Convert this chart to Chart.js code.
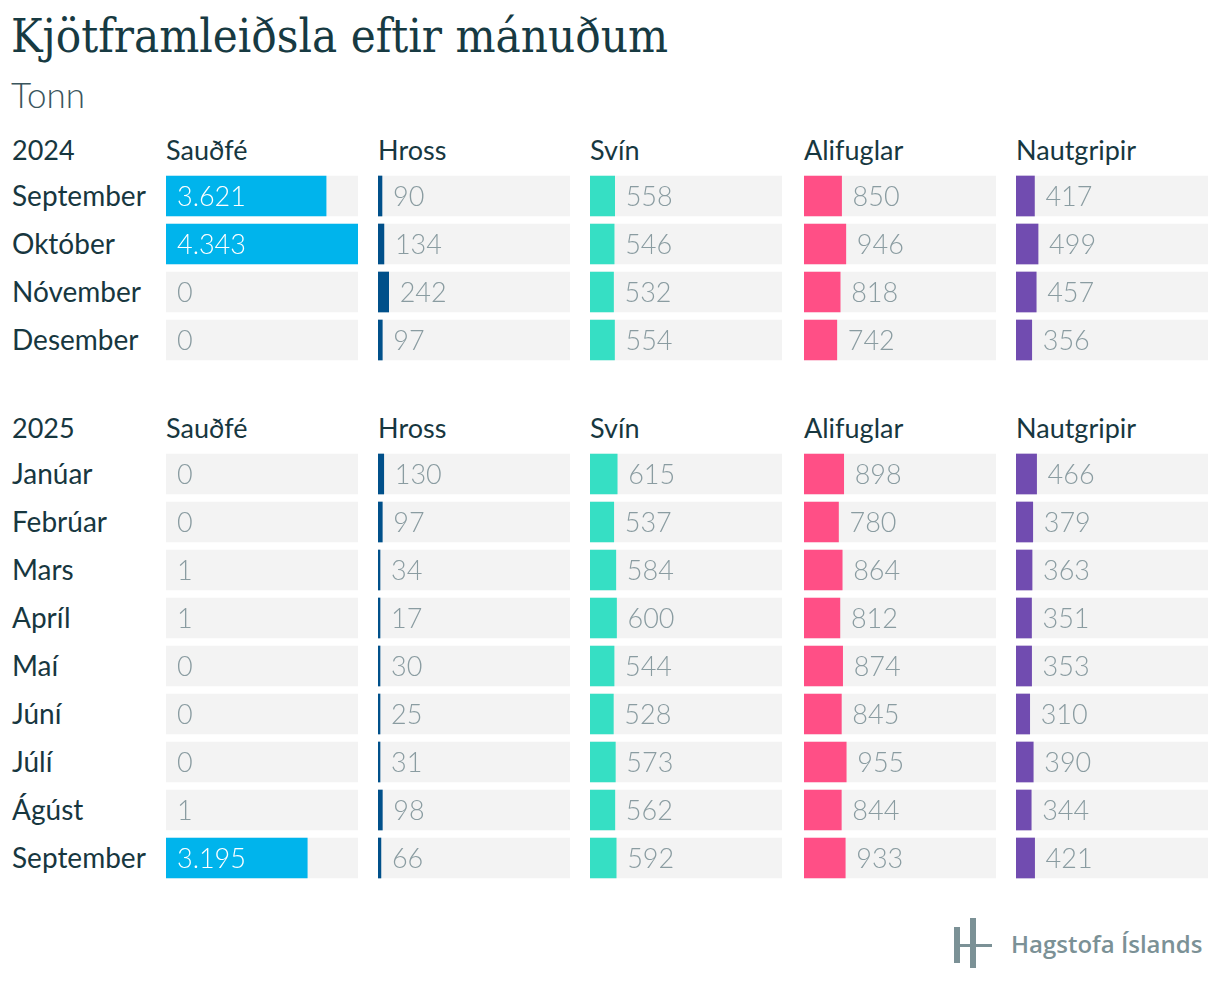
<!DOCTYPE html>
<html lang="is">
<head>
<meta charset="utf-8">
<title>Kjötframleiðsla eftir mánuðum</title>
<script src="https://cdn.jsdelivr.net/npm/chart.js@4.4.1/dist/chart.umd.min.js"></script>
<style>
  body { margin: 0; background: #fff; width: 1220px; height: 994px; position: relative; overflow: hidden;
         font-family: Lato, "Noto Sans", sans-serif; color: #17373f; }
  .abs { position: absolute; white-space: nowrap; }
  #title { left: 11px; top: 8px; font-family: "DejaVu Serif Condensed", "DejaVu Serif", serif; font-size: 47px; color: #173a42; }
  #sub { left: 11px; top: 73px; font-size: 35px; font-weight: 300; color: #3a555d; }
  .hd { font-size: 27px; line-height: 30px; }
  .mo { font-size: 28px; line-height: 30px; left: 12px; }
  canvas { position: absolute; }
  #logo-text { left: 1011px; top: 927px; font-family: "Open Sans", sans-serif; font-weight: 600; font-size: 24px; color: #7b9196; }
  .lg { position: absolute; background: #7b9196; }
</style>
</head>
<body>
<div id="title" class="abs">Kjötframleiðsla eftir mánuðum</div>
<div id="sub" class="abs">Tonn</div>

<div class="lg" style="left:954px;top:927px;width:6px;height:36px"></div>
<div class="lg" style="left:970px;top:918px;width:6px;height:50px"></div>
<div class="lg" style="left:954px;top:944px;width:38px;height:3px"></div>
<div id="logo-text" class="abs">Hagstofa Íslands</div>

<script>
// flokkar (kjöttegundir) og litir
const kinds = ["Sauðfé", "Hross", "Svín", "Alifuglar", "Nautgripir"];
const kindColors = ["#00b4ec", "#00508a", "#36dfc4", "#ff4f86", "#714cb0"];

// 2024
const months2024 = ["September", "Október", "Nóvember", "Desember"];
const saudfe2024 = [3621, 4343, 0, 0];
const hross2024 = [90, 134, 242, 97];
const svin2024 = [558, 546, 532, 554];
const alifuglar2024 = [850, 946, 818, 742];
const nautgripir2024 = [417, 499, 457, 356];

// 2025
const months2025 = ["Janúar", "Febrúar", "Mars", "Apríl", "Maí", "Júní", "Júlí", "Ágúst", "September"];
const saudfe2025 = [0, 0, 1, 1, 0, 0, 0, 1, 3195];
const hross2025 = [130, 97, 34, 17, 30, 25, 31, 98, 66];
const svin2025 = [615, 537, 584, 600, 544, 528, 573, 562, 592];
const alifuglar2025 = [898, 780, 864, 812, 874, 845, 955, 844, 933];
const nautgripir2025 = [466, 379, 363, 351, 353, 310, 390, 344, 421];

const blocks = [
  { year: "2024", months: months2024, series: [saudfe2024, hross2024, svin2024, alifuglar2024, nautgripir2024], headY: 135, top: 172 },
  { year: "2025", months: months2025, series: [saudfe2025, hross2025, svin2025, alifuglar2025, nautgripir2025], headY: 413, top: 450 }
];

const colX = [166, 378, 590, 804, 1016];
const colW = 192;
const rowH = 48;
const barH = 40;

// sami kvarði í öllum dálkum
const maxVal = Math.max(...blocks.flatMap(b => b.series.flat()));

function fmt(v) {
  return v.toLocaleString("de-DE");
}

// gildin skrifuð við endann á súlunni (eða inni í henni ef hún er breið)
const valueLabels = {
  id: "valueLabels",
  afterDatasetsDraw(chart) {
    const ctx = chart.ctx;
    const meta = chart.getDatasetMeta(1);
    const data = chart.data.datasets[1].data;
    ctx.save();
    ctx.font = "300 27px Lato";
    ctx.textBaseline = "middle";
    meta.data.forEach((bar, i) => {
      const w = bar.x - bar.base;
      let x, color;
      if (w > 100) {
        x = bar.base + 11;
        color = "#ffffff";
      } else {
        x = bar.x + 11;
        color = "#8a9ca1";
      }
      ctx.fillStyle = color;
      ctx.fillText(fmt(data[i]), x, bar.y + 1);
    });
    ctx.restore();
  }
};

function addText(cls, text, left, top) {
  const d = document.createElement("div");
  d.className = "abs " + cls;
  d.textContent = text;
  d.style.left = left + "px";
  d.style.top = top + "px";
  document.body.appendChild(d);
}

blocks.forEach(block => {
  addText("hd", block.year, 12, block.headY);
  block.months.forEach((m, i) => {
    addText("mo", m, 12, block.top + i * rowH + rowH / 2 - 16);
  });

  kinds.forEach((kind, k) => {
    addText("hd", kind, colX[k], block.headY);

    const canvas = document.createElement("canvas");
    const h = block.months.length * rowH;
    canvas.style.left = colX[k] + "px";
    canvas.style.top = block.top + "px";
    canvas.style.width = colW + "px";
    canvas.style.height = h + "px";
    document.body.appendChild(canvas);

    new Chart(canvas, {
      type: "bar",
      data: {
        labels: block.months,
        datasets: [
          {
            data: block.months.map(() => maxVal),
            backgroundColor: "#f3f3f3",
            barThickness: barH,
            grouped: false,
            order: 2
          },
          {
            data: block.series[k],
            // súlur sem eru minni en pixill sjást ekki
            backgroundColor: c => (c.raw / maxVal * colW < 0.5 ? "rgba(0,0,0,0)" : kindColors[k]),
            barThickness: barH,
            grouped: false,
            minBarLength: k === 1 ? 2 : 0,
            order: 1
          }
        ]
      },
      options: {
        indexAxis: "y",
        responsive: false,
        animation: false,
        maintainAspectRatio: false,
        layout: { padding: 0 },
        plugins: { legend: { display: false }, tooltip: { enabled: false } },
        scales: {
          x: { display: false, min: 0, max: maxVal },
          y: { display: false }
        }
      },
      plugins: [valueLabels]
    });
  });
});
</script>
</body>
</html>
